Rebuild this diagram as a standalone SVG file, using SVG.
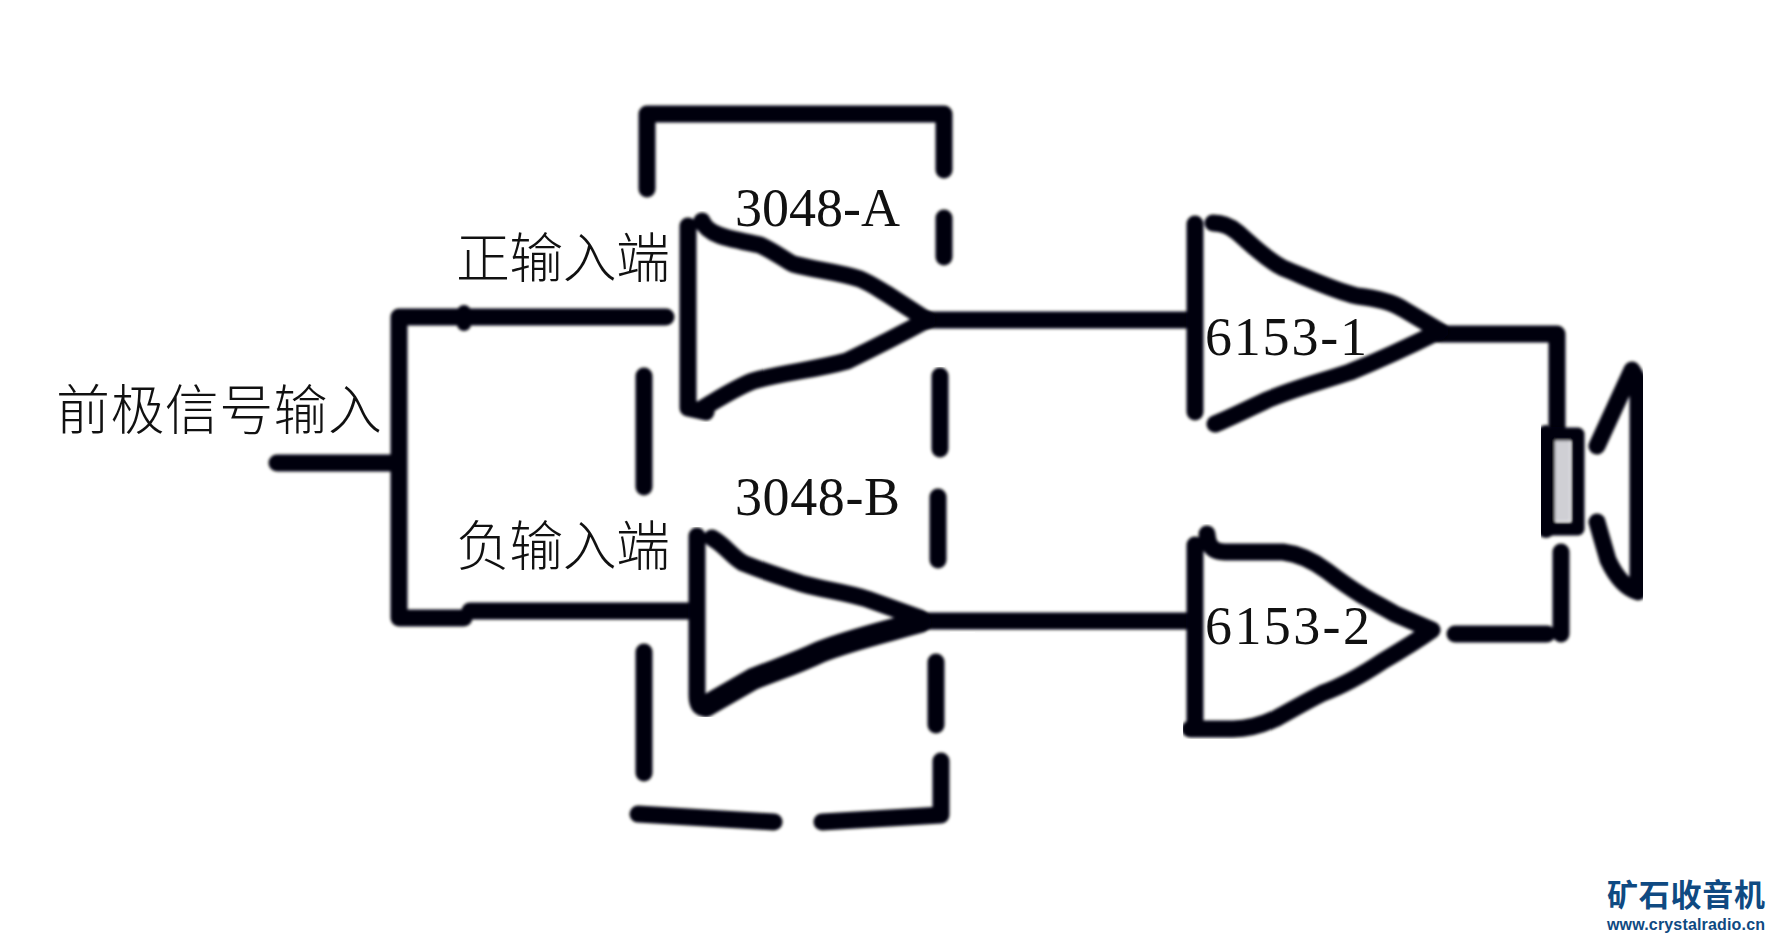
<svg xmlns="http://www.w3.org/2000/svg" width="1772" height="937" viewBox="0 0 1772 937">
<defs>
<filter id="soft" x="-5%" y="-5%" width="110%" height="110%"><feGaussianBlur stdDeviation="1.6"/></filter>
<style>
.s{fill:none;stroke:#05050f;stroke-width:17;stroke-linecap:round;stroke-linejoin:round}
.t{font-family:"Noto Sans CJK SC","Noto Sans CJK JP",sans-serif;font-size:54px;font-weight:300;fill:#111}
.n{font-family:"Liberation Serif",serif;font-size:54px;fill:#111}
.m{fill:#fff}
</style>
</defs>
<rect width="1772" height="937" fill="#fff"/>
<g id="connectors" filter="url(#soft)">
<path class="s" d="M277 463H399M666 317H399V618H464M470 611H690"/>
<path class="s" d="M464 312V324" style="stroke-width:14"/>
<path class="s" d="M927 320H1190M920 621H1190"/>
<path class="s" d="M1440 334H1557V429M1561 552V634M1455 634H1547"/>
</g>
<g id="dashed-box" filter="url(#soft)">
<path class="s" d="M647 189V114H944V170"/>
<path class="s" d="M944 218V257M940 376V449M938 497V560M936 662V725M941 761V815L822 822"/>
<path class="s" d="M644 376V487M644 652V773M638 814L774 822"/>
</g>
<g id="amp-3048-A" filter="url(#soft)">
<path class="s" d="M688 226V408L706 412M702 221C708 235 725 238 760 245C775 252 785 260 793 264C815 270 840 272 860 279C872 284 880 290 887 294L927 320C905 332 880 345 847 361C815 370 785 372 753 381C735 388 720 398 703 408"/>
</g>
<g id="amp-3048-B" filter="url(#soft)">
<path class="s" d="M697 536V695C697 705 700 708 706 708"/>
<path class="s" d="M712 538C725 545 732 557 743 563C765 572 785 578 803 584C825 590 845 592 867 599L920 618"/>
<path class="s" style="stroke-width:22" d="M920 622C885 632 850 640 820 652C795 664 775 670 753 679L706 706"/>
</g>
<g id="amp-6153-1" filter="url(#soft)">
<path class="s" d="M1195 224V412M1213 223C1222 223 1230 226 1237 232C1250 243 1265 259 1283 268C1310 279 1335 291 1357 296C1375 298 1392 302 1403 309L1440 331C1410 346 1380 360 1350 372C1320 382 1295 388 1267 400C1250 408 1230 418 1215 424"/>
</g>
<g id="amp-6153-2" filter="url(#soft)">
<path class="s" d="M1195 545V728M1207 534C1208 548 1215 552 1225 552H1283C1300 554 1315 562 1327 571C1340 581 1350 588 1363 596C1375 603 1385 608 1395 614L1432 630C1415 642 1400 651 1383 661C1365 673 1345 685 1323 693C1305 702 1290 711 1277 718C1262 725 1248 729 1233 729H1190"/>
</g>
<g id="speaker" filter="url(#soft)">
<rect x="1555" y="439" width="15" height="82" fill="#cfcfd4"/>
<path class="s" d="M1578 434H1546V529H1578Z" style="stroke-width:13"/>
<path class="s" d="M1546 434V529" style="stroke-width:18"/>
<path class="s" d="M1597 446L1632 370L1638 380V592C1625 588 1615 575 1608 560L1597 522"/>
</g>
<g id="masks">
<path class="m" d="M712 437V424H722V417H745V412H767V403H825V399H860V385H872V378H888V370H905V363H925V355H945V348H965V340H985V352H965V360H945V367H925V372H905V382H888V392H872V404H860V410H767V425H745V437Z"/>
<path class="m" d="M895 650V644H918V637H950V632H975V640H950V650Z"/>
<rect class="m" x="1172" y="640" width="11" height="110"/>
</g>
<g id="labels">
<text class="t" x="456" y="278" textLength="214">正输入端</text>
<text class="t" x="56" y="430" textLength="326">前极信号输入</text>
<text class="t" x="456" y="566" textLength="214">负输入端</text>
<text class="n" x="735" y="226" textLength="165">3048-A</text>
<text class="n" x="735" y="515" textLength="165">3048-B</text>
<text class="n" x="1205" y="355" textLength="162">6153-1</text>
<text class="n" x="1205" y="644" textLength="165">6153-2</text>
</g>
<g id="watermark">
<text x="1607" y="906" textLength="158" style="font-family:'Noto Sans CJK SC',sans-serif;font-weight:700;font-size:31px;fill:#0f4a82">矿石收音机</text>
<text x="1607" y="930" textLength="158" style="font-family:'Liberation Sans',sans-serif;font-weight:700;font-size:16px;fill:#0f4a82">www.crystalradio.cn</text>
</g>
</svg>
